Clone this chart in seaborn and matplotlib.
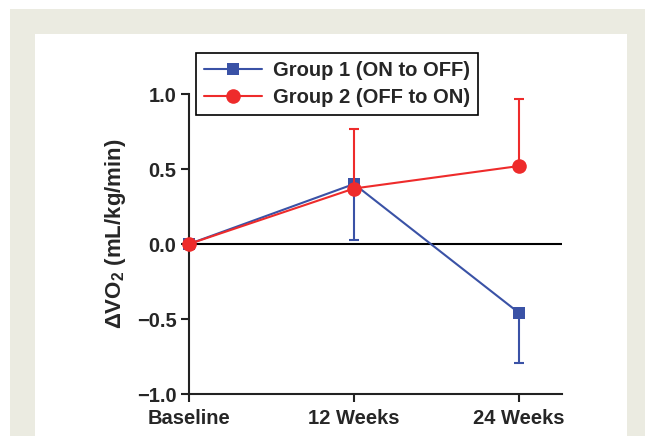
# -*- coding: utf-8 -*-
"""
Variation de VO2 par groupe (Baseline, 12 et 24 semaines).
"""

import numpy as np
import seaborn as sns
import matplotlib.pyplot as plt
from matplotlib.patches import Rectangle

# Données
timepoints = ["Baseline", "12 Weeks", "24 Weeks"]
group1_label = "Group 1 (ON to OFF)"
group2_label = "Group 2 (OFF to ON)"
group1_values = [0.0, 0.40, -0.46]
group1_lower = [0.0, 0.03, -0.79]   # barres d'erreur vers le bas
group2_values = [0.0, 0.37, 0.52]
group2_upper = [0.0, 0.77, 0.97]    # barres d'erreur vers le haut
yticks = [-1.0, -0.5, 0.0, 0.5, 1.0]

blue = "#3A52A6"
red = "#EE2B2B"


def main():
    sns.set_style("ticks")
    plt.rcParams['font.family'] = ['Liberation Sans', 'DejaVu Sans']
    plt.rcParams['mathtext.fontset'] = 'custom'
    plt.rcParams['mathtext.rm'] = 'Liberation Sans:bold'
    plt.rcParams['mathtext.bf'] = 'Liberation Sans:bold'

    fig = plt.figure(figsize=(6.45, 4.36), dpi=100)
    fig.patch.set_facecolor("white")

    # Cadre beige et panneau blanc
    fig.patches.append(Rectangle((10 / 645, 0), 1, 1 - 9 / 436,
                                 transform=fig.transFigure, facecolor="#EBEBE1",
                                 edgecolor="none", zorder=-2))
    fig.patches.append(Rectangle((35 / 645, 0), (627 - 35) / 645, 1 - 34 / 436,
                                 transform=fig.transFigure, facecolor="white",
                                 edgecolor="none", zorder=-1))

    ax = fig.add_axes([189 / 645, 42 / 436, 373 / 645, 300 / 436])
    ax.set_facecolor("none")

    xpos = np.arange(len(timepoints))

    # Barres d'erreur (unilatérales), sans la baseline
    g1 = np.array(group1_values)
    g2 = np.array(group2_values)
    lo = np.array(group1_lower)
    up = np.array(group2_upper)
    ax.errorbar(xpos[1:], g1[1:], yerr=[g1[1:] - lo[1:], np.zeros(len(g1) - 1)],
                fmt="none", ecolor=blue, elinewidth=1.5, capsize=3.5,
                capthick=1.5, zorder=2)
    ax.errorbar(xpos[1:], g2[1:], yerr=[np.zeros(len(g2) - 1), up[1:] - g2[1:]],
                fmt="none", ecolor=red, elinewidth=1.5, capsize=3.5,
                capthick=1.5, zorder=4)

    # Courbes
    sns.lineplot(x=xpos, y=group1_values, ax=ax, color=blue, marker="s",
                 markersize=8, markeredgewidth=0, linewidth=1.5,
                 label=group1_label, zorder=3, clip_on=False)
    sns.lineplot(x=xpos, y=group2_values, ax=ax, color=red, marker="o",
                 markersize=10.5, markeredgewidth=0, linewidth=1.5,
                 label=group2_label, zorder=5, clip_on=False)

    ax.axhline(0, color="black", linewidth=1.5, zorder=1)

    # Axes
    ax.set_xlim(0, 2.26)
    ax.set_ylim(-1, 1)
    ax.set_xticks(xpos)
    ax.set_xticklabels(timepoints)
    ax.set_yticks(yticks)
    ax.set_yticklabels([f"{v:.1f}".replace("-", "\u2212") for v in yticks])
    for lab in ax.get_xticklabels() + ax.get_yticklabels():
        lab.set_fontweight("bold")
        lab.set_fontsize(14.5)
    ax.tick_params(axis="both", direction="out", length=6, width=1.5,
                   color="#222222")
    ax.tick_params(axis="x", pad=5)
    ax.tick_params(axis="y", pad=3)
    for side in ["top", "right"]:
        ax.spines[side].set_visible(False)
    for side in ["left", "bottom"]:
        ax.spines[side].set_linewidth(1.5)
        ax.spines[side].set_color("#222222")

    ax.set_ylabel("\u0394VO$_{2}$ (mL/kg/min)", fontsize=16, fontweight="bold")
    ax.yaxis.set_label_coords(-0.163, 0.535)
    ax.set_xlabel("")

    # Légende
    leg = ax.legend(loc="upper left", bbox_to_anchor=(196 / 645, 1 - 53 / 436),
                    bbox_transform=fig.transFigure, borderaxespad=0,
                    frameon=True, fancybox=False,
                    edgecolor="black", framealpha=1, handlelength=2.9,
                    handletextpad=0.5, borderpad=0.4, labelspacing=0.4,
                    prop={"weight": "bold", "size": 14.5})
    leg.get_frame().set_linewidth(1.2)

    fig.savefig("out.png", dpi=100)


if __name__ == "__main__":
    main()
